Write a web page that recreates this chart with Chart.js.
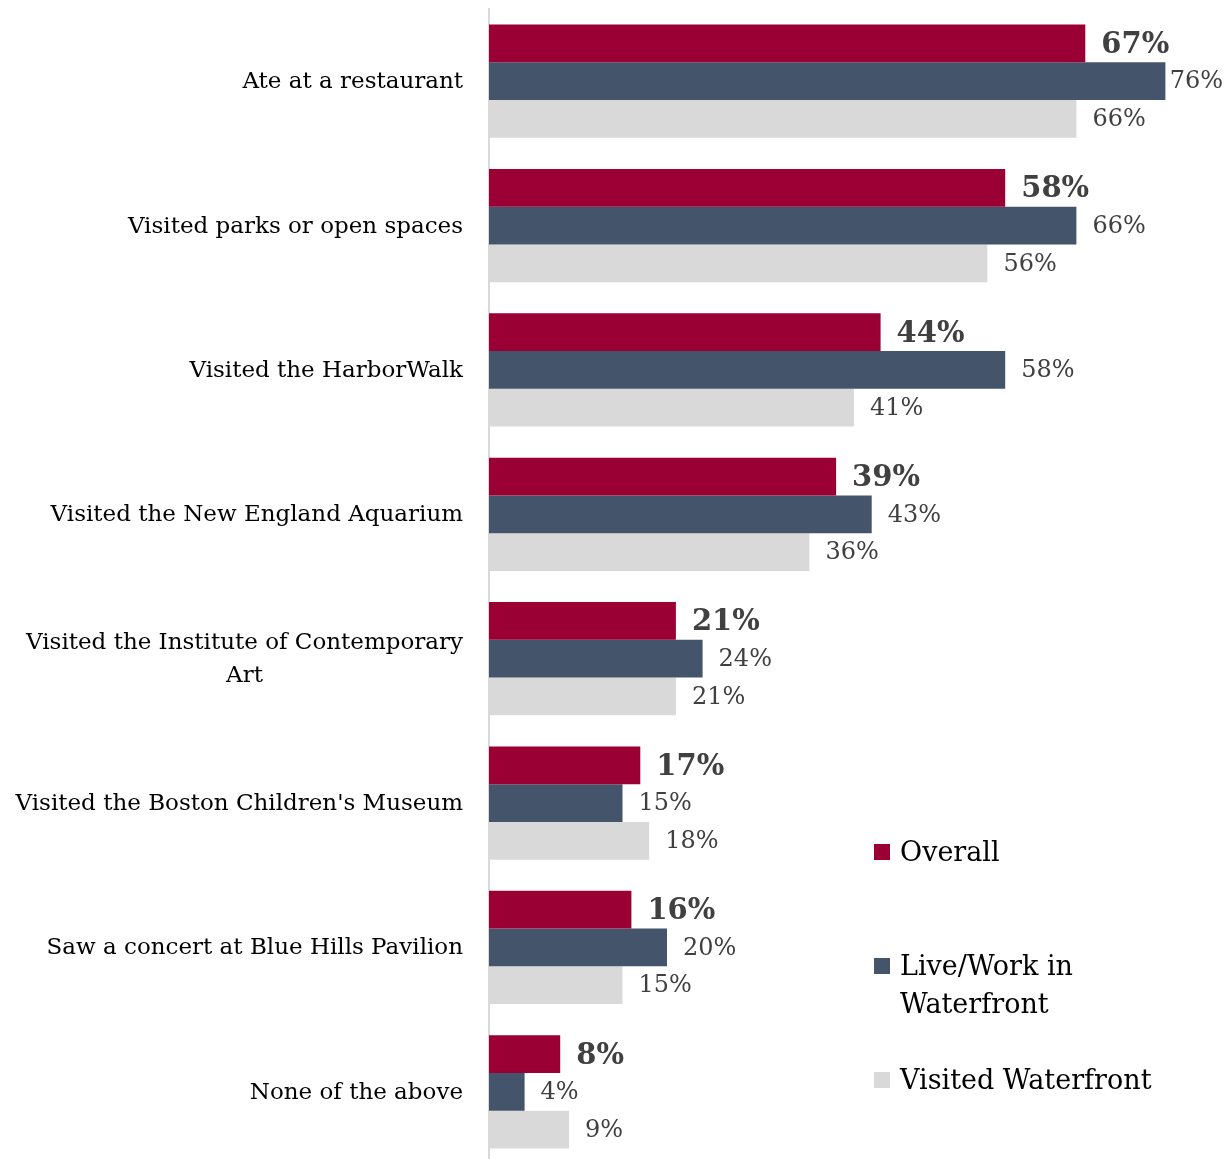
<!DOCTYPE html>
<html>
<head>
<meta charset="utf-8">
<script src="https://cdn.jsdelivr.net/npm/chart.js@4.4.1/dist/chart.umd.min.js"></script>
<style>
  html, body { margin: 0; padding: 0; background: #fff; overflow: hidden; }
  #wrap { position: relative; width: 1231px; height: 1166px; }
</style>
</head>
<body>
<div id="wrap"><canvas id="chart"></canvas></div>
<script>
const categories = [
  'Ate at a restaurant',
  'Visited parks or open spaces',
  'Visited the HarborWalk',
  'Visited the New England Aquarium',
  ['Visited the Institute of Contemporary', 'Art'],
  "Visited the Boston Children's Museum",
  'Saw a concert at Blue Hills Pavilion',
  'None of the above'
];
const overall = [67, 58, 44, 39, 21, 17, 16, 8];
const liveWork = [76, 66, 58, 43, 24, 15, 20, 4];
const visited = [66, 56, 41, 36, 21, 18, 15, 9];
const seriesNames = ['Overall', ['Live/Work in', 'Waterfront'], 'Visited Waterfront'];
const seriesColors = ['#9b0034', '#44546a', '#d9d9d9'];

const FONT = '"DejaVu Serif", "Liberation Serif", serif';

// value labels at the end of each bar
const valueLabels = {
  id: 'valueLabels',
  afterDatasetsDraw(chart) {
    const ctx = chart.ctx;
    ctx.save();
    ctx.textBaseline = 'middle';
    ctx.textAlign = 'left';
    chart.data.datasets.forEach((ds, di) => {
      const meta = chart.getDatasetMeta(di);
      ctx.font = di === 0 ? `bold 29px ${FONT}` : `24px ${FONT}`;
      ctx.fillStyle = '#404040';
      meta.data.forEach((bar, i) => {
        const text = ds.data[i] + '%';
        const w = ctx.measureText(text).width;
        const x = Math.min(bar.x + 16, chart.width - w - 8);
        ctx.fillText(text, x, bar.y + (di === 0 ? 2 : 1));
      });
    });
    ctx.restore();
  }
};

// category labels drawn at the y scale positions
const categoryLabels = {
  id: 'categoryLabels',
  afterDraw(chart) {
    const ctx = chart.ctx;
    const y = chart.scales.y;
    ctx.save();
    ctx.font = `23px ${FONT}`;
    ctx.fillStyle = '#000';
    ctx.textBaseline = 'middle';
    categories.forEach((label, i) => {
      const cy = y.getPixelForValue(i) + 1;
      const right = 463;
      if (Array.isArray(label)) {
        const widest = Math.max(...label.map(l => ctx.measureText(l).width));
        const cx = right - widest / 2;
        const lh = 33;
        ctx.textAlign = 'center';
        label.forEach((l, k) => {
          ctx.fillText(l, cx, cy + (k - (label.length - 1) / 2) * lh);
        });
      } else {
        ctx.textAlign = 'right';
        ctx.fillText(label, right, cy);
      }
    });
    ctx.restore();
  }
};

// legend in the lower right
const sideLegend = {
  id: 'sideLegend',
  afterDraw(chart) {
    const ctx = chart.ctx;
    const rows = [852, 966, 1080];
    ctx.save();
    ctx.font = `27px ${FONT}`;
    ctx.textBaseline = 'middle';
    ctx.textAlign = 'left';
    seriesNames.forEach((name, i) => {
      ctx.fillStyle = seriesColors[i];
      ctx.fillRect(874, rows[i] - 8, 16, 16);
      ctx.fillStyle = '#000';
      const lines = Array.isArray(name) ? name : [name];
      lines.forEach((l, k) => ctx.fillText(l, 900, rows[i] + 2 + k * 38));
    });
    ctx.restore();
  }
};

new Chart(document.getElementById('chart'), {
  type: 'bar',
  data: {
    labels: categories,
    datasets: [
      { label: 'Overall', data: overall, backgroundColor: seriesColors[0] },
      { label: 'Live/Work in Waterfront', data: liveWork, backgroundColor: seriesColors[1] },
      { label: 'Visited Waterfront', data: visited, backgroundColor: seriesColors[2] }
    ]
  },
  options: {
    indexAxis: 'y',
    responsive: true,
    maintainAspectRatio: false,
    animation: false,
    datasets: { bar: { barPercentage: 1, categoryPercentage: 0.785 } },
    layout: { padding: { top: 9, bottom: 2, right: 30 } },
    plugins: { legend: { display: false }, tooltip: { enabled: false } },
    scales: {
      x: { display: false, min: 0, max: 80 },
      y: {
        grid: { display: false, drawTicks: false },
        ticks: { display: false },
        border: { display: true, color: '#d9d9d9', width: 2 },
        afterFit: scale => { scale.width = 489; }
      }
    }
  },
  plugins: [valueLabels, categoryLabels, sideLegend]
});
</script>
</body>
</html>
